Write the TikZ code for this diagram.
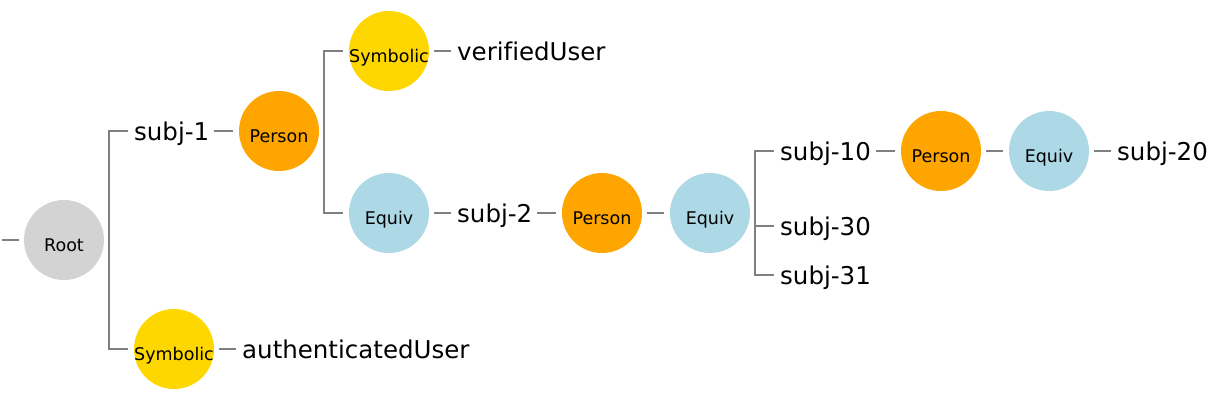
\documentclass[tikz,border=0pt]{standalone}
\usepackage{fontspec}
\setmainfont[Ligatures=NoCommon]{DejaVu Sans}
\usepackage{tikz}
\usetikzlibrary{positioning}
\usepackage{xcolor}
\definecolor{rootGray}{HTML}{D3D3D3}
\definecolor{personOrange}{HTML}{FFA500}
\definecolor{symbolicGold}{HTML}{FFD700}
\definecolor{equivBlue}{HTML}{ADD8E6}
\definecolor{linkGray}{HTML}{808080}
% text sits a little below the centre of each circle
\newcommand{\lowtext}[1]{\raisebox{-11pt}[0pt][0pt]{#1}}
\tikzset{
  ball/.style={
    circle,
    inner sep = 0pt,
    minimum size = 80pt,
    font = \fontsize{17.5}{20}\selectfont
  },
  tag/.style={
    anchor = west,
    inner sep = 0pt,
    text height = 18pt,
    text depth = 0pt,
    font = \fontsize{24.5}{28}\selectfont
  },
  link/.style={
    draw = linkGray,
    line width = 2pt
  }
}

\begin{document}
\begin{tikzpicture}[x=1pt, y=-1pt]
    \useasboundingbox (0,0) rectangle (1216,400);

    % circles
    \node[ball, fill=rootGray]     (root)    at (64,240)   {\lowtext{Root}};
    \node[ball, fill=personOrange] (person1) at (279,131)  {\lowtext{Person}};
    \node[ball, fill=symbolicGold] (sym1)    at (389,51)   {\lowtext{Symbolic}};
    \node[ball, fill=equivBlue]    (equiv1)  at (389,213)  {\lowtext{Equiv}};
    \node[ball, fill=personOrange] (person2) at (602,213)  {\lowtext{Person}};
    \node[ball, fill=equivBlue]    (equiv2)  at (710,213)  {\lowtext{Equiv}};
    \node[ball, fill=personOrange] (person3) at (941,151)  {\lowtext{Person}};
    \node[ball, fill=equivBlue]    (equiv3)  at (1049,151) {\lowtext{Equiv}};
    \node[ball, fill=symbolicGold] (sym2)    at (174,349)  {\lowtext{Symbolic}};

    % labels
    \node[tag] (subj1)  at (134,131)  {subj-1};
    \node[tag] (user1)  at (457,51)   {verifiedUser};
    \node[tag] (subj2)  at (457,213)  {subj-2};
    \node[tag] (subj10) at (780,151)  {subj-10};
    \node[tag] (subj20) at (1117,151) {subj-20};
    \node[tag] (subj30) at (780,226)  {subj-30};
    \node[tag] (subj31) at (780,275)  {subj-31};
    \node[tag] (user2)  at (242,349)  {authenticatedUser};

    \coordinate (start) at ([xshift=-22pt]root.west);
    \draw[link] (start) -- ([xshift=-5pt]root.west);

    \foreach \a/\b in {root/subj1, root/sym2, subj1/person1,
      person1/sym1, person1/equiv1, sym1/user1, equiv1/subj2,
      subj2/person2, person2/equiv2, equiv2/subj10, equiv2/subj30,
      equiv2/subj31, subj10/person3, person3/equiv3, equiv3/subj20,
      sym2/user2}{
      \draw[link]
      ([xshift=5pt]\a.east) |- ([xshift=-6pt]\b.west);
    }
\end{tikzpicture}
\end{document}
